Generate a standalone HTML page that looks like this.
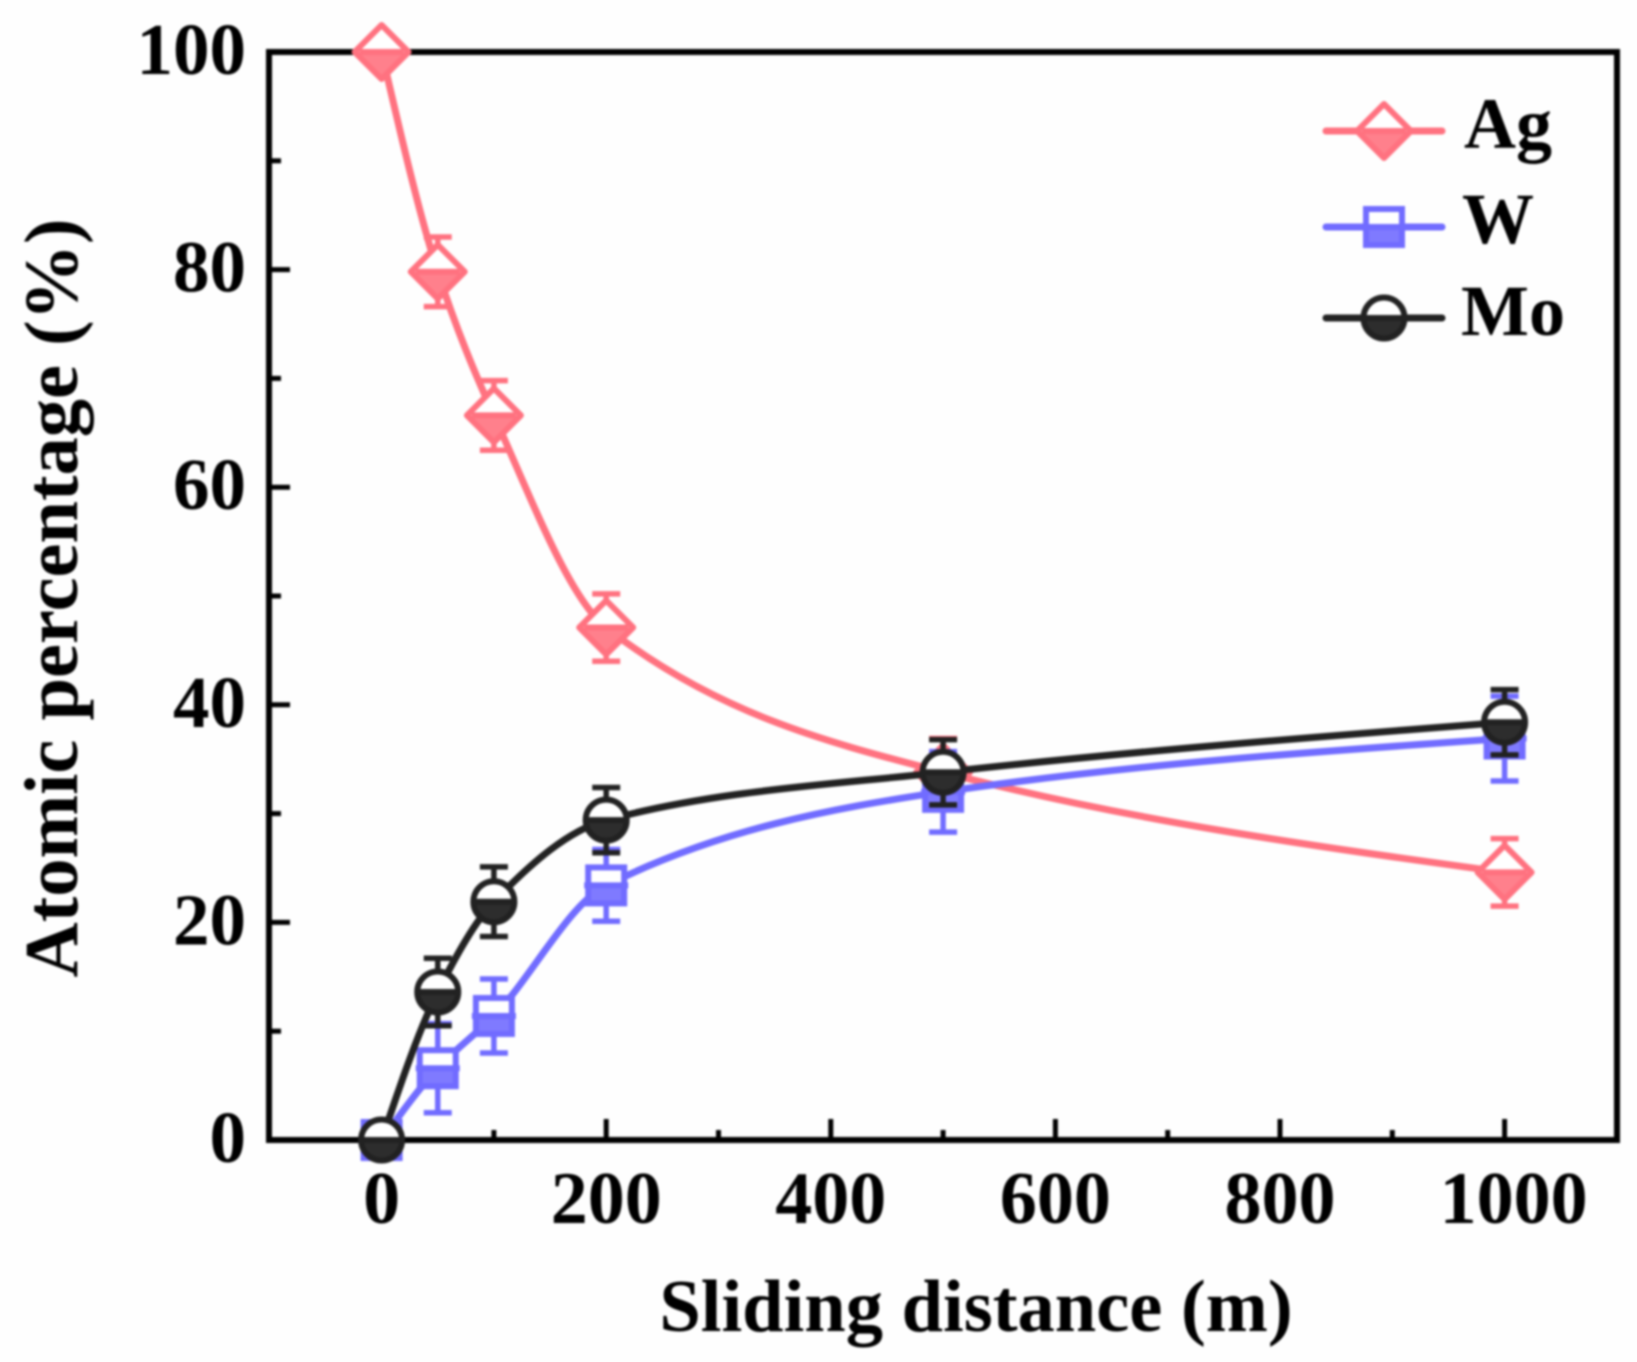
<!DOCTYPE html>
<html lang="en">
<head>
<meta charset="utf-8">
<title>Atomic percentage vs sliding distance</title>
<style>
html,body{margin:0;padding:0;background:#fefefe;width:1637px;height:1362px;overflow:hidden}
svg{display:block;filter:blur(1px)}
text{font-family:"Liberation Serif",serif;font-weight:bold;fill:#000}
</style>
</head>
<body>
<svg id="chart" width="1637" height="1362" viewBox="0 0 1637 1362" xmlns="http://www.w3.org/2000/svg">
  <rect x="269" y="52" width="1348" height="1088" fill="#fefefe" stroke="#000" stroke-width="6"/>
  <g id="ticks"></g>
  <g id="series"></g>
  <text x="976" y="1331" font-size="74.5" text-anchor="middle">Sliding distance (m)</text>
  <text transform="translate(77 598) rotate(-90)" font-size="76.5" text-anchor="middle">Atomic percentage (%)</text>
  <g id="legend">
    <text x="1464" y="148" font-size="72">Ag</text>
    <text x="1462" y="243" font-size="72">W</text>
    <text x="1461" y="335" font-size="72">Mo</text>
  </g>
</svg>
<script>
const distances = [0, 50, 100, 200, 500, 1000];
const agValues = [100, 79.8, 66.6, 47.1, 33.8, 24.6];
const agErrors = [0, 3.2, 3.2, 3.1, 3.1, 3.1];
const wValues = [0, 6.6, 11.4, 23.4, 32, 36.9];
const wErrors = [0, 4.1, 3.4, 3.3, 3.7, 3.9];
const moValues = [0, 13.6, 21.9, 29.4, 33.8, 38.4];
const moErrors = [0, 3.1, 3.2, 3.0, 3.0, 3.0];
const xTickLabels = [0, 200, 400, 600, 800, 1000];
const xMinorTicks = [100, 300, 500, 700, 900];
const yTickLabels = [0, 20, 40, 60, 80, 100];
const yMinorTicks = [10, 30, 50, 70, 90];

const SVGNS = 'http://www.w3.org/2000/svg';
const xScale = v => 381.6 + v * 1.123;
const yScale = v => 1140 - v * 10.88;

function make(tag, attrs, parent) {
  const el = document.createElementNS(SVGNS, tag);
  for (const k in attrs) el.setAttribute(k, attrs[k]);
  parent.appendChild(el);
  return el;
}

const ticksLayer = document.getElementById('ticks');
const seriesLayer = document.getElementById('series');
const legendLayer = document.getElementById('legend');

xTickLabels.forEach(v => {
  const t = make('line', {x1: xScale(v), x2: xScale(v), y1: 1140, y2: 1119, stroke: '#000', 'stroke-width': 5}, ticksLayer);
  
  
  const l = make('text', {x: xScale(v) + (v >= 1000 ? 9 : 0), y: 1223, 'font-size': 74, 'text-anchor': 'middle'}, ticksLayer);
  l.textContent = v;
  
  
});
xMinorTicks.forEach(v => {
  const t = make('line', {x1: xScale(v), x2: xScale(v), y1: 1140, y2: 1130, stroke: '#000', 'stroke-width': 5}, ticksLayer);
  
  
});
yTickLabels.forEach(v => {
  const t = make('line', {x1: 269, x2: 290, y1: yScale(v), y2: yScale(v), stroke: '#000', 'stroke-width': 5}, ticksLayer);
  
  
  const l = make('text', {x: 246, y: yScale(v) + 22, 'font-size': 73, 'text-anchor': 'end'}, ticksLayer);
  l.textContent = v;
  
  
});
yMinorTicks.forEach(v => {
  const t = make('line', {x1: 269, x2: 281, y1: yScale(v), y2: yScale(v), stroke: '#000', 'stroke-width': 5}, ticksLayer);
  
  
});

/* monotone cubic through the pixel positions of the data */
function splinePath(px, py) {
  const n = px.length, s = [], m = [];
  for (let i = 0; i < n - 1; i++) s.push((py[i + 1] - py[i]) / (px[i + 1] - px[i]));
  for (let i = 1; i < n - 1; i++) {
    const h0 = px[i] - px[i - 1], h1 = px[i + 1] - px[i];
    m[i] = s[i - 1] * s[i] <= 0 ? 0 : (h0 + 2 * h1 + 2 * h0 + h1) / ((2 * h1 + h0) / s[i - 1] + (h1 + 2 * h0) / s[i]);
  }
  m[0] = (3 * s[0] - m[1]) / 2;
  m[n - 1] = (3 * s[n - 2] - m[n - 2]) / 2;
  let d = 'M' + px[0] + ' ' + py[0];
  for (let i = 0; i < n - 1; i++) {
    const h = (px[i + 1] - px[i]) / 3;
    d += ' C' + (px[i] + h) + ' ' + (py[i] + m[i] * h) + ' ' + (px[i + 1] - h) + ' ' + (py[i + 1] - m[i + 1] * h) + ' ' + px[i + 1] + ' ' + py[i + 1];
  }
  return d;
}

function drawMarker(kind, cx, cy, color, parent) {
  const g = make('g', {}, parent);
  if (kind === 'diamond') {
    const r = 27;
    make('polygon', {points: [cx - r, cy, cx, cy - r, cx + r, cy, cx, cy + r].join(' '), fill: '#fff', stroke: color, 'stroke-width': 6, 'stroke-linejoin': 'round'}, g);
    make('polygon', {points: [cx - r, cy, cx + r, cy, cx, cy + r].join(' '), fill: color, 'fill-opacity': .9}, g);
  } else if (kind === 'square') {
    const r = 18;
    make('rect', {x: cx - r, y: cy - r, width: 2 * r, height: 2 * r, fill: '#fff', stroke: color, 'stroke-width': 6}, g);
    make('rect', {x: cx - r, y: cy, width: 2 * r, height: r, fill: color, 'fill-opacity': .9}, g);
  } else {
    const r = 20.5;
    make('circle', {cx: cx, cy: cy, r: r, fill: '#fff', stroke: color, 'stroke-width': 6}, g);
    make('path', {d: 'M' + (cx - r) + ' ' + cy + ' A' + r + ' ' + r + ' 0 0 0 ' + (cx + r) + ' ' + cy + ' Z', fill: color, 'fill-opacity': .95}, g);
  }
  make('line', {x1: cx - 22, x2: cx + 22, y1: cy, y2: cy, stroke: color, 'stroke-width': 6}, g);
  return g;
}

function drawSeries(values, errors, color, kind, key) {
  const g = make('g', {}, seriesLayer);
  
  
  const line = make('path', {d: splinePath(distances.map(xScale), values.map(yScale)), fill: 'none', stroke: color, 'stroke-width': 7}, g);
  
  
  distances.forEach((d, i) => {
    const cx = xScale(d);
    if (errors[i] > 0) {
      const top = yScale(values[i] + errors[i]);
      const bottom = yScale(values[i] - errors[i]);
      const bar = make('path', {d: 'M' + (cx - 14) + ' ' + top + ' H' + (cx + 14) + ' M' + cx + ' ' + top + ' V' + bottom + ' M' + (cx - 14) + ' ' + bottom + ' H' + (cx + 14), fill: 'none', stroke: color, 'stroke-width': 5.5}, g);
      
      
    }
    const marker = drawMarker(kind, cx, yScale(values[i]), color, g);
    
    
  });
}

const agColor = '#ff7280';
const wColor = '#716cff';
const moColor = '#222222';
drawSeries(agValues, agErrors, agColor, 'diamond', 'ag');
drawSeries(wValues, wErrors, wColor, 'square', 'w');
drawSeries(moValues, moErrors, moColor, 'circle', 'mo');

function drawLegendKey(cy, color, kind, key) {
  const ln = make('line', {x1: 1326, x2: 1442, y1: cy, y2: cy, stroke: color, 'stroke-width': 7, 'stroke-linecap': 'round'}, legendLayer);
  
  
  const mk = drawMarker(kind, 1384, cy, color, legendLayer);
  
  
}
drawLegendKey(131, agColor, 'diamond', 'ag');
drawLegendKey(227, wColor, 'square', 'w');
drawLegendKey(318, moColor, 'circle', 'mo');
</script>
</body>
</html>
